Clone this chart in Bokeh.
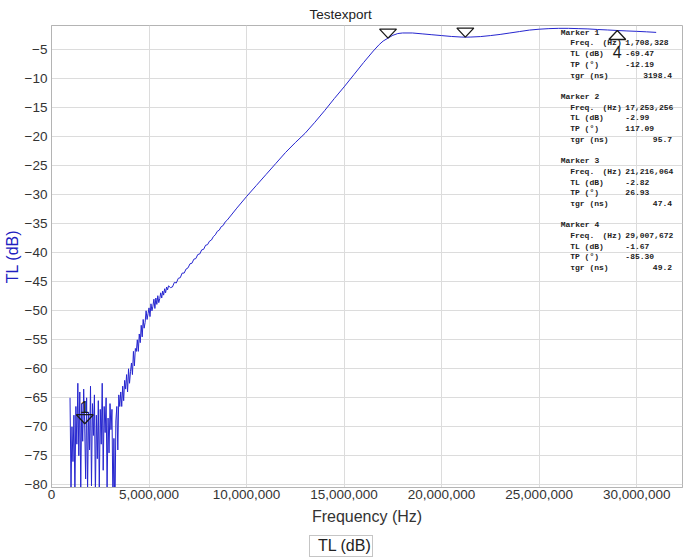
from bokeh.plotting import figure
from bokeh.layouts import column
from bokeh.models import Range1d, FixedTicker, NumeralTickFormatter, Legend, LegendItem, ColumnDataSource
from bokeh.core.properties import value
from bokeh.embed import file_html
from bokeh.resources import INLINE

# ---------------- data ----------------
title_text = "Testexport"
x_label = "Frequency (Hz)"
y_label = "TL (dB)"
series_name = "TL (dB)"

# measured transmission loss trace (frequency in MHz, TL in dB)
freq_noise_mhz = [0.95, 1.00, 1.05, 1.10, 1.15, 1.20, 1.25, 1.30, 1.35, 1.40,
                  1.45, 1.50, 1.55, 1.60, 1.65, 1.70, 1.75, 1.80, 1.85, 1.90,
                  1.95, 2.00, 2.05, 2.10, 2.15, 2.20, 2.25, 2.30, 2.35, 2.40,
                  2.45, 2.50, 2.55, 2.60, 2.65, 2.70, 2.75, 2.80, 2.85, 2.90,
                  2.95, 3.00, 3.05, 3.10, 3.15, 3.20, 3.25, 3.30, 3.35, 3.40,
                  3.45, 3.50]
tl_noise_db = [-65.0, -80.5, -70.0, -76.0, -68.0, -81.5, -66.5, -73.0, -62.5, -75.0,
               -64.0, -80.5, -66.0, -72.5, -63.5, -69.5, -79.0, -65.0, -81.0, -67.5,
               -74.0, -63.0, -80.2, -66.0, -71.5, -64.5, -82.0, -68.0, -75.5, -65.5,
               -80.8, -67.0, -73.0, -62.5, -77.5, -66.5, -71.0, -65.0, -80.5, -68.5,
               -74.5, -66.0, -70.5, -67.0, -84.0, -72.0, -86.0, -69.0, -66.5, -74.0,
               -64.5, -66.5]

freq_rise_mhz = [3.55, 3.60, 3.65, 3.70, 3.75, 3.80, 3.85, 3.90, 3.95, 4.00,
                 4.05, 4.10, 4.15, 4.20, 4.25, 4.30, 4.35, 4.40, 4.45, 4.50,
                 4.55, 4.60, 4.65, 4.70, 4.75, 4.80, 4.85, 4.90, 4.95, 5.00,
                 5.05, 5.10, 5.15, 5.20, 5.25, 5.30, 5.35, 5.40, 5.45, 5.50,
                 5.55, 5.60, 5.65, 5.70, 5.75, 5.80, 5.85, 5.90, 5.95, 6.00]
tl_rise_db = [-64.0, -66.5, -63.0, -65.5, -62.0, -63.5, -61.0, -64.0, -60.0, -62.5,
              -60.5, -59.0, -61.0, -57.0, -59.5, -56.5, -57.0, -55.0, -57.0, -54.0,
              -55.5, -52.5, -54.5, -51.5, -53.0, -52.0, -50.0, -51.5, -50.5, -49.5,
              -51.0, -48.8, -50.0, -49.2, -48.0, -49.6, -47.8, -48.9, -47.4, -48.6,
              -47.9, -46.9, -47.8, -46.6, -47.3, -46.2, -46.9, -45.9, -46.4, -45.7]

freq_mid_mhz = [6.1, 6.2, 6.3, 6.4, 6.5, 6.6, 6.7, 6.8, 6.9, 7.0,
                7.1, 7.2, 7.3, 7.4, 7.5, 7.6, 7.7, 7.8, 7.9, 8.0,
                8.1, 8.2, 8.3, 8.4, 8.5, 8.6, 8.7, 8.8, 8.9, 9.0]
tl_mid_db = [-46.0, -45.9, -45.1, -45.2, -44.4, -44.3, -43.5, -43.5, -42.8, -42.6,
             -41.9, -41.8, -41.1, -41.0, -40.3, -40.2, -39.5, -39.4, -38.7, -38.6,
             -38.0, -37.8, -37.2, -36.9, -36.3, -36.1, -35.5, -35.3, -34.7, -34.4]

freq_top_mhz = [9.5, 10.0, 10.5, 11.0, 11.5, 12.0, 12.5, 13.0, 13.5, 14.0,
                14.5, 15.0, 15.5, 16.0, 16.5, 16.8, 17.0, 17.25, 17.5, 17.75,
                18.0, 18.5, 19.0, 19.5, 20.0, 20.5, 21.0, 21.22, 21.5, 22.0,
                22.5, 23.0, 23.5, 24.0, 24.5, 25.0, 25.5, 26.0, 26.5, 27.0,
                27.5, 28.0, 28.5, 29.0, 29.5, 30.0, 30.5, 31.0]
tl_top_db = [-32.3, -30.3, -28.4, -26.5, -24.6, -22.7, -21.0, -19.4, -17.5, -15.5,
             -13.4, -11.4, -9.3, -7.2, -5.2, -4.1, -3.5, -2.99, -2.5, -2.2,
             -2.1, -2.1, -2.25, -2.4, -2.55, -2.7, -2.8, -2.82, -2.8, -2.72,
             -2.55, -2.35, -2.1, -1.85, -1.6, -1.45, -1.35, -1.3, -1.3, -1.35,
             -1.4, -1.5, -1.58, -1.67, -1.75, -1.82, -1.9, -2.0]

# markers
marker_ids = ["1", "2", "3", "4"]
marker_freq_hz = [1708328, 17253256, 21216064, 29007672]
marker_tl_db = [-69.47, -2.99, -2.82, -1.67]
marker_tp_deg = [-12.19, 117.09, 26.93, -85.30]
marker_tgr_ns = [3198.4, 95.7, 47.4, 49.2]
marker_pointing = ["down", "down", "down", "up"]

x_ticks = [0, 5000000, 10000000, 15000000, 20000000, 25000000, 30000000]
y_ticks = [-80, -75, -70, -65, -60, -55, -50, -45, -40, -35, -30, -25, -20, -15, -10, -5]

# ---------------- layout ----------------
X_MIN, X_MAX = 0, 32350000
Y_MIN, Y_MAX = -80.47, -0.81
W, H = 684, 531
FL, FT, FW, FH = 47, 25, 635, 462
LEG_H = 27

px_x = FW / (X_MAX - X_MIN)
px_y = FH / (Y_MAX - Y_MIN)


def dx(px):
    return px / px_x


def dy(px):
    return px / px_y


def x_at(cx):
    return X_MIN + (cx - FL) / px_x


def y_at(cy):
    return Y_MAX - (cy - FT) / px_y


SANS = "Liberation Sans"
MONO = "Liberation Mono"
LINE_COLOR = "#2626cf"

p = figure(width=W, height=H,
           x_range=Range1d(X_MIN, X_MAX), y_range=Range1d(Y_MIN, Y_MAX),
           output_backend="svg", toolbar_location=None,
           min_border_left=FL, min_border_top=FT,
           min_border_right=W - FL - FW, min_border_bottom=H - FT - FH)

p.title.text = title_text
p.title.text_font = SANS
p.title.text_font_size = "13.5px"
p.title.text_font_style = "normal"
p.title.text_color = "#222222"
p.title.align = "left"
p.title.offset = 258
p.title.standoff = 7

p.outline_line_color = "#b4b4b4"
p.outline_line_width = 1
p.background_fill_color = "white"
p.border_fill_color = "white"

for ax in (p.xaxis[0], p.yaxis[0]):
    ax.axis_line_color = "#b4b4b4"
    ax.major_tick_line_color = None
    ax.minor_tick_line_color = None
    ax.major_tick_out = 0
    ax.major_tick_in = 0
    ax.major_label_text_font = SANS
    ax.major_label_text_font_size = "13.5px"
    ax.major_label_text_color = "#333333"
    ax.axis_label_text_font = SANS
    ax.axis_label_text_font_size = "16px"
    ax.axis_label_text_font_style = "normal"

p.xaxis.ticker = FixedTicker(ticks=x_ticks)
p.xaxis.formatter = NumeralTickFormatter(format="0,0")
p.xaxis.axis_label = x_label
p.xaxis.axis_label_text_color = "#333333"
p.xaxis.major_label_standoff = 2
p.xaxis.axis_label_standoff = 6

p.yaxis.ticker = FixedTicker(ticks=y_ticks)
p.yaxis.axis_label = y_label
p.yaxis.axis_label_text_color = "#2020c0"
p.yaxis.major_label_standoff = 4
p.yaxis.axis_label_standoff = 1

p.xgrid.ticker = FixedTicker(ticks=x_ticks)
p.ygrid.ticker = FixedTicker(ticks=y_ticks)
p.grid.grid_line_color = "#dcdcdc"
p.grid.grid_line_width = 1

# trace
freq_all_hz = [f * 1e6 for f in freq_noise_mhz + freq_rise_mhz + freq_mid_mhz + freq_top_mhz]
tl_all = tl_noise_db + tl_rise_db + tl_mid_db + tl_top_db
line_r = p.line(freq_all_hz, tl_all, line_color=LINE_COLOR, line_width=1)

# marker triangles (tip at the marker point)
TW, TH = 8.5, 9.0
tri_xs, tri_ys = [], []
lab_x, lab_y, lab_t, lab_base = [], [], [], []
for mid, fx, ty, d in zip(marker_ids, marker_freq_hz, marker_tl_db, marker_pointing):
    s = 1 if d == "down" else -1
    tri_xs.append([fx - dx(TW), fx + dx(TW), fx])
    tri_ys.append([ty + s * dy(TH), ty + s * dy(TH), ty])
    if d == "down":
        ly = ty + dy(TH + 1.5)
        if ly + dy(13) < Y_MAX:
            lab_x.append(fx); lab_y.append(ly); lab_t.append(mid); lab_base.append("bottom")
    else:
        ly = ty - dy(TH + 7)
        lab_x.append(fx); lab_y.append(ly); lab_t.append(mid); lab_base.append("top")

p.patches(tri_xs, tri_ys, fill_color=None, line_color="#1a1a1a", line_width=1.3)
p.text(x=lab_x, y=lab_y, text=lab_t, text_baseline=lab_base, text_align="center",
       text_font=value(SANS), text_font_size="16px", text_color="#1a1a1a")

# marker info block (positions relative to the frame's top-left)
X0 = FL + 512.5
ROW0 = FT + 6.7
ROWH = 10.7
tx, ty_, tt, ta = [], [], [], []


def put(cx, row, s, align="left"):
    tx.append(x_at(cx)); ty_.append(y_at(ROW0 + row * ROWH)); tt.append(s); ta.append(align)


for i, mid in enumerate(marker_ids):
    r = 6 * i
    put(X0, r, "Marker " + mid)
    put(X0 + 9.5, r + 1, "Freq.")
    put(X0 + 42, r + 1, "(Hz)")
    put(X0 + 65, r + 1, f"{marker_freq_hz[i]:,}")
    put(X0 + 9.5, r + 2, "TL (dB)")
    put(X0 + 65, r + 2, f"{marker_tl_db[i]:.2f}")
    put(X0 + 9.5, r + 3, "TP (°)")
    put(X0 + 65, r + 3, f"{marker_tp_deg[i]:.2f}")
    put(X0 + 9.5, r + 4, "τgr (ns)")
    put(X0 + 112, r + 4, f"{marker_tgr_ns[i]:.1f}", "right")

src = ColumnDataSource(dict(x=tx, y=ty_, text=tt, align=ta))
p.text(x="x", y="y", text="text", text_align="align", source=src, text_baseline="middle",
       text_font=value(MONO), text_font_size="8px", text_font_style="bold", text_color="#222222")

# legend strip underneath the chart (same side borders as the chart, so columns align)
q = figure(width=W, height=LEG_H, x_range=Range1d(0, 1), y_range=Range1d(0, 1),
           x_axis_type=None, y_axis_type=None,
           output_backend="svg", toolbar_location=None,
           min_border_left=FL, min_border_right=W - FL - FW,
           min_border_top=4, min_border_bottom=0)
q.outline_line_color = None
q.background_fill_color = "white"
q.border_fill_color = "white"
leg_r = q.line(x=[], y=[], line_color=LINE_COLOR, line_width=1)
legend = Legend(items=[LegendItem(label=series_name, renderers=[leg_r])],
                location=(258, 1), orientation="horizontal",
                border_line_color="#8c8c8c", border_line_width=1,
                background_fill_color="white", background_fill_alpha=1,
                padding=1, spacing=0, margin=0, glyph_width=6, glyph_height=18,
                label_standoff=1, label_text_font=SANS, label_text_font_size="16px",
                label_text_color="#222222", label_height=18)
q.add_layout(legend)

layout = column(p, q, spacing=0)
open("out.html", "w").write(file_html(layout, INLINE))
